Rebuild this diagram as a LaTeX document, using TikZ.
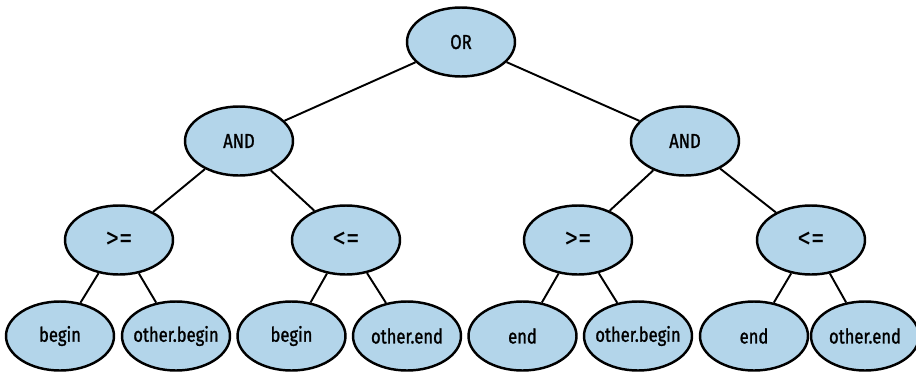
\documentclass[tikz,border=0pt]{standalone}
\usepackage{fontspec}
\newfontfamily\opfont[FakeStretch=0.82,FakeBold=1.2]{Fira Sans}
\newfontfamily\cmpfont[FakeStretch=0.9]{Fira Sans}
\usepackage{tikz}
\usetikzlibrary{shapes.geometric}
\definecolor{opblue}{RGB}{179,213,234}

\begin{document}
\begin{tikzpicture}[
    opnode/.style={ellipse, draw=black, line width=1.4pt, fill=opblue,
      minimum width=2.16cm, minimum height=1.38cm, inner sep=-4pt,
      font=\opfont\fontsize{11.5}{12}\selectfont},
    cmpnode/.style={opnode, font=\cmpfont\fontsize{17}{18}\selectfont},
    opedge/.style={line width=1.1pt}
  ]
  \useasboundingbox (0, 0) rectangle (18.32, -7.44);
  % root and operators
  \node[opnode] (or)   at (9.22,  -0.84) {OR};
  \node[opnode] (andl) at (4.78,  -2.82) {AND};
  \node[opnode] (andr) at (13.70, -2.82) {AND};
  \node[cmpnode] (gel) at (2.38,  -4.80) {>=};
  \node[cmpnode] (lel) at (6.92,  -4.80) {<=};
  \node[cmpnode] (ger) at (11.56, -4.80) {>=};
  \node[cmpnode] (ler) at (16.22, -4.80) {<=};
  % leaves
  \node[opnode] (begl)   at (1.20,  -6.72) {begin};
  \node[opnode] (obegl)  at (3.52,  -6.72) {other.begin};
  \node[opnode] (begr)   at (5.83,  -6.72) {begin};
  \node[opnode] (oendl)  at (8.14,  -6.72) {other.end};
  \node[opnode] (endl)   at (10.45, -6.72) {end};
  \node[opnode] (obegr)  at (12.76, -6.72) {other.begin};
  \node[opnode] (endr)   at (15.08, -6.72) {end};
  \node[opnode] (oendr)  at (17.30, -6.72) {other.end};
  % edges
  \foreach \a/\b in {or/andl, or/andr, andl/gel, andl/lel, andr/ger, andr/ler,
                     gel/begl, gel/obegl, lel/begr, lel/oendl,
                     ger/endl, ger/obegr, ler/endr, ler/oendr}
    \draw[opedge] (\a) -- (\b);
\end{tikzpicture}
\end{document}
